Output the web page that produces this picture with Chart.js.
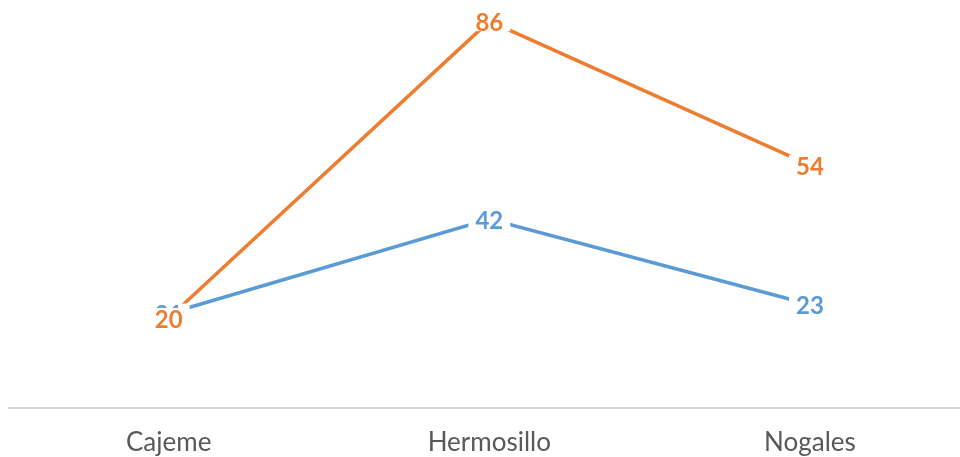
<!DOCTYPE html>
<html>
<head>
<meta charset="utf-8">
<script src="https://cdn.jsdelivr.net/npm/chart.js@4/dist/chart.umd.min.js"></script>
<style>
  html, body { margin: 0; padding: 0; background: #fff; }
  #wrap { width: 960px; height: 457px; }
</style>
</head>
<body>
<div id="wrap"><canvas id="lineChart"></canvas></div>
<script>
// data
const categories = ['Cajeme', 'Hermosillo', 'Nogales'];
const serieAzul = [21, 42, 23];
const serieNaranja = [20, 86, 54];

const toPoints = vals => vals.map((v, i) => ({ x: i, y: v }));

// labels with a white box, drawn over the lines like Excel does
const etiquetas = {
  id: 'etiquetas',
  afterDatasetsDraw(chart) {
    const ctx = chart.ctx;
    ctx.save();
    ctx.font = 'bold 24px Lato';
    ctx.textAlign = 'center';
    ctx.textBaseline = 'middle';
    chart.data.datasets.forEach((ds, di) => {
      chart.getDatasetMeta(di).data.forEach((pt, i) => {
        const txt = String(ds.data[i].y);
        const w = ctx.measureText(txt).width;
        ctx.fillStyle = '#fff';
        ctx.fillRect(pt.x - w / 2 - 7, pt.y - 10, w + 14, 20);
        ctx.fillStyle = ds.borderColor;
        ctx.fillText(txt, pt.x, pt.y + 2);
      });
    });
    ctx.restore();
  }
};

new Chart(document.getElementById('lineChart'), {
  type: 'line',
  data: {
    datasets: [{
      data: toPoints(serieAzul),
      borderColor: '#5B9BD5',
      borderWidth: 3.5,
      pointRadius: 0,
      tension: 0
    }, {
      data: toPoints(serieNaranja),
      borderColor: '#ED7D31',
      borderWidth: 3.5,
      pointRadius: 0,
      tension: 0
    }]
  },
  options: {
    responsive: true,
    maintainAspectRatio: false,
    animation: false,
    layout: { padding: { left: 9, right: 0, top: 0, bottom: 0 } },
    plugins: { legend: { display: false }, tooltip: { enabled: false } },
    scales: {
      x: {
        type: 'linear',
        min: -0.498,
        max: 2.468,
        afterBuildTicks: axis => { axis.ticks = categories.map((c, i) => ({ value: i })); },
        afterFit: axis => { axis.height = 49; },
        grid: { display: false, drawTicks: false },
        border: { display: true, color: '#d9d9d9', width: 2 },
        ticks: {
          callback: v => categories[v],
          color: '#595959',
          font: { family: 'Lato', size: 26, lineHeight: 1.2 },
          padding: 19,
          maxRotation: 0
        }
      },
      y: {
        display: false,
        min: 0,
        max: 90.7
      }
    }
  },
  plugins: [etiquetas]
});
</script>
</body>
</html>
